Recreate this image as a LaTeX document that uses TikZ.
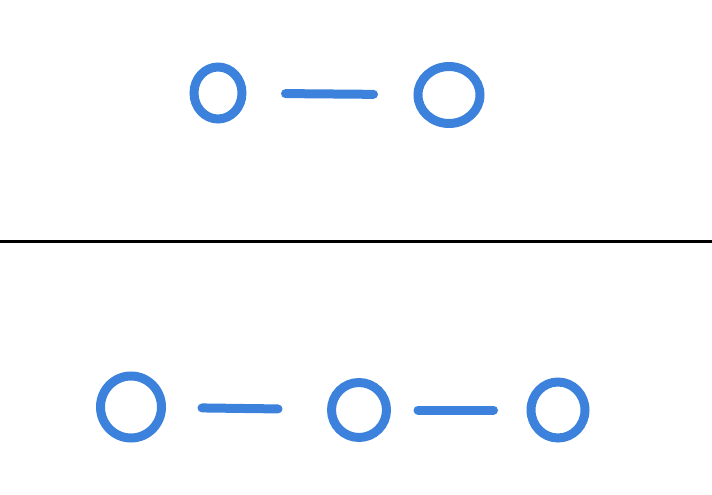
\documentclass[tikz,border=0pt]{standalone}
\usepackage{tikz}
\usetikzlibrary{shapes.geometric}
\definecolor{penblue}{HTML}{3C82DC}

\begin{document}
\begin{tikzpicture}[x=1pt,y=-1pt,
  ring/.style={draw=penblue,ellipse,line width=9pt,inner sep=0pt},
  edge/.style={draw=penblue,line width=9pt,line cap=round}]
  \useasboundingbox (0,0) rectangle (712,495);
  % top row: two vertices
  \node[ring,minimum width=48pt,minimum height=52pt] (T1) at (218,93) {};
  \node[ring,minimum width=62pt,minimum height=57pt] (T2) at (449,95) {};
  \draw[edge,shorten <=39pt,shorten >=40pt] (T1) -- (T2);
  % divider
  \draw[line width=3pt] (0,241) -- (712,241);
  % bottom row: three vertices
  \node[ring,minimum width=61pt,minimum height=62pt] (B1) at (131,407) {};
  \node[ring,minimum width=55pt,minimum height=55pt] (B2) at (359,410) {};
  \node[ring,minimum width=54pt,minimum height=56pt] (B3) at (558,410) {};
  \draw[edge,shorten <=36pt,shorten >=49pt] (B1) -- (B2);
  \draw[edge,shorten <=27pt,shorten >=33pt] (B2) -- (B3);
\end{tikzpicture}
\end{document}
